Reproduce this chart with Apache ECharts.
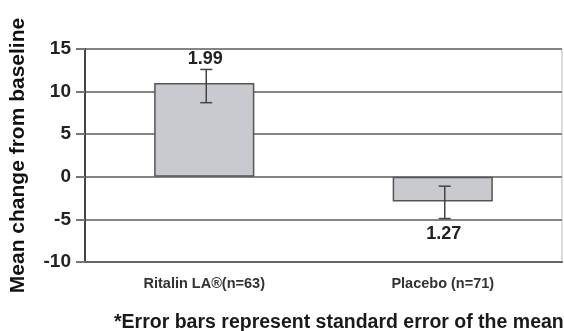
<!DOCTYPE html>
<html>
<head>
<meta charset="utf-8">
<script src="https://cdn.jsdelivr.net/npm/echarts@6/dist/echarts.min.js"></script>
<style>
  html, body { margin: 0; padding: 0; background: #fff; }
  #chart { width: 564px; height: 331px; }
</style>
</head>
<body>
<div id="chart"></div>
<script>
var categories = ['Ritalin LA\u00AE(n=63)', 'Placebo (n=71)'];
var meanChange = [11.0, -2.9];
var errLow = [8.7, -4.9];
var errHigh = [12.6, -1.1];
var seLabels = ['1.99', '1.27'];
var yTicks = { min: -10, max: 15, interval: 5 };

var FONT = 'Liberation Sans, Arial, sans-serif';
var chart = echarts.init(document.getElementById('chart'), null, { renderer: 'canvas' });

var errData = categories.map(function (c, i) { return [i, errLow[i], errHigh[i], meanChange[i]]; });

chart.setOption({
  animation: false,
  backgroundColor: '#fff',
  title: {
    text: '*Error bars represent standard error of the mean',
    left: 109, top: 308,
    textStyle: { fontFamily: FONT, fontSize: 19.5, fontWeight: 'bold', color: '#1a1a1a' }
  },
  grid: { left: 85, right: 2, top: 49, bottom: 69, show: true, borderColor: '#bbb', borderWidth: 1 },
  xAxis: {
    type: 'category',
    data: categories,
    axisLine: { show: true, onZero: false, lineStyle: { color: '#666', width: 2 } },
    axisTick: { show: false },
    axisLabel: { fontFamily: FONT, fontSize: 14.5, fontWeight: 'bold', color: '#333', margin: 14 }
  },
  yAxis: {
    type: 'value',
    min: yTicks.min, max: yTicks.max, interval: yTicks.interval,
    name: 'Mean change from baseline',
    nameLocation: 'middle',
    nameRotate: 90,
    nameGap: 56,
    nameTextStyle: { fontFamily: FONT, fontSize: 21, fontWeight: 'bold', color: '#111' },
    axisLine: { show: true, lineStyle: { color: '#444', width: 2 } },
    axisTick: { show: true, length: 9, lineStyle: { color: '#777', width: 2 } },
    axisLabel: { fontFamily: FONT, fontSize: 19, fontWeight: 'bold', color: '#222', margin: 14 },
    splitLine: { show: true, lineStyle: { color: '#858585', width: 2 } }
  },
  series: [
    {
      type: 'bar',
      data: meanChange,
      barWidth: '42%',
      itemStyle: { color: '#c9cad0', borderColor: '#555', borderWidth: 1.5 },
      z: 2
    },
    {
      type: 'custom',
      data: errData,
      z: 5,
      renderItem: function (params, api) {
        var i = api.value(0);
        var lo = api.coord([i, api.value(1)]);
        var hi = api.coord([i, api.value(2)]);
        var x = lo[0] + 2;
        var cap = 6;
        var style = { stroke: '#444', lineWidth: 1.5 };
        var positive = api.value(3) >= 0;
        var labelY = positive ? hi[1] - 1 : lo[1] + 6;
        return {
          type: 'group',
          children: [
            { type: 'line', shape: { x1: x, y1: lo[1], x2: x, y2: hi[1] }, style: style },
            { type: 'line', shape: { x1: x - cap, y1: lo[1], x2: x + cap, y2: lo[1] }, style: style },
            { type: 'line', shape: { x1: x - cap, y1: hi[1], x2: x + cap, y2: hi[1] }, style: style },
            {
              type: 'text',
              style: {
                x: x - 1, y: labelY,
                text: seLabels[params.dataIndex],
                fontFamily: FONT, fontSize: 18, fontWeight: 'bold', fill: '#222',
                align: 'center', verticalAlign: positive ? 'bottom' : 'top'
              }
            }
          ]
        };
      }
    }
  ]
});
</script>
</body>
</html>
